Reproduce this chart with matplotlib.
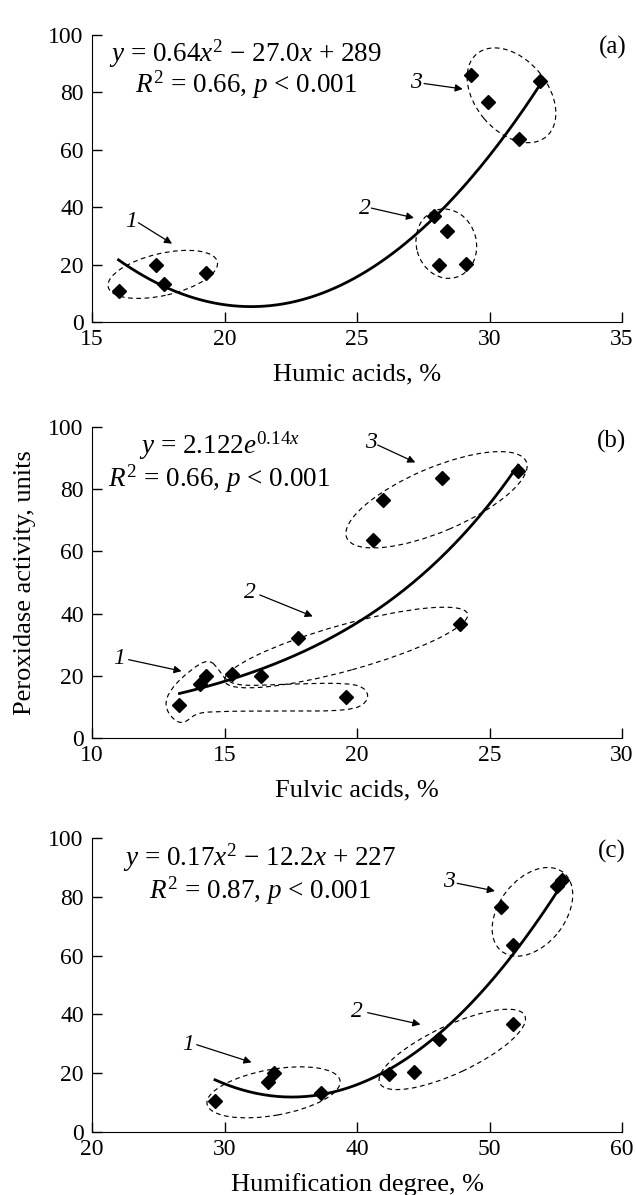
import numpy as np
import matplotlib
matplotlib.use('Agg')
import matplotlib.pyplot as plt
from matplotlib.patches import Ellipse, PathPatch
from matplotlib.path import Path
from matplotlib.transforms import ScaledTranslation

plt.rcParams['font.family'] = ['Liberation Serif', 'DejaVu Serif']
plt.rcParams['mathtext.fontset'] = 'custom'
plt.rcParams['mathtext.rm'] = 'Liberation Serif'
plt.rcParams['mathtext.it'] = 'Liberation Serif:italic'
plt.rcParams['font.size'] = 17

# Peroxidase activity (units), same samples in each panel
humic = [16.0, 17.4, 17.7, 19.3, 27.9, 28.4, 28.1, 29.1, 29.3, 29.95, 31.1, 31.9]
humic_y = [10.7, 20.0, 13.3, 17.2, 36.9, 31.7, 20.0, 20.3, 86.0, 76.5, 63.8, 84.0]

fulvic = [13.3, 14.07, 14.3, 15.3, 16.37, 17.79, 19.6, 23.9, 20.6, 20.98, 23.2, 26.08]
fulvic_y = [10.6, 17.5, 20.1, 20.7, 20.1, 32.0, 13.3, 36.7, 63.8, 76.6, 83.6, 85.9]

humif = [29.28, 33.27, 33.76, 37.27, 42.4, 44.33, 46.18, 51.77, 50.88, 51.77, 55.08, 55.45]
humif_y = [10.4, 17.1, 20.0, 13.2, 19.7, 20.3, 31.6, 36.6, 76.4, 63.7, 83.7, 85.9]

eq_a = ['$y$ = 0.64$x^2$ \u2212 27.0$x$ + 289', '$R^2$ = 0.66, $p$ < 0.001']
eq_b = ['$y$ = 2.122$e^{0.14x}$', '$R^2$ = 0.66, $p$ < 0.001']
eq_c = ['$y$ = 0.17$x^2$ \u2212 12.2$x$ + 227', '$R^2$ = 0.87, $p$ < 0.001']

# group rings: centre (data), width / height (px), angle (deg)
rings_a = [(17.67, 16.6, 112, 42, 13), (28.37, 27.3, 70, 60, -75), (30.83, 79.0, 108, 72, -50)]
rings_b = [(19.59, 29.1, 252, 46, 15.5), (23.0, 76.6, 195, 64, 23)]
rings_c = [(33.7, 13.5, 135, 46, 10), (47.19, 28.1, 160, 48, 25), (53.24, 74.9, 100, 66, 52)]

# odd-shaped outline of group 1 in panel (b)
lasso_b = [(14.41, 25.5), (13.72, 22.0), (12.95, 15.7), (12.72, 10.3), (13.10, 5.5),
           (13.49, 4.7), (13.87, 7.7), (14.49, 8.6), (17.25, 8.7), (19.71, 8.7),
           (20.4, 11.4), (20.4, 15.7), (19.71, 17.8), (17.25, 17.3), (15.56, 16.7),
           (15.02, 18.8), (14.79, 22.0)]

# group labels: text position, arrow start, arrow tip
labels_a = [('1', (16.49, 35.2), (16.75, 34.6), (18.02, 27.3)),
            ('2', (25.28, 39.7), (25.54, 39.7), (27.15, 36.3)),
            ('3', (27.22, 83.5), (27.53, 83.1), (28.99, 81.2))]
labels_b = [('1', (11.03, 25.5), (11.38, 25.2), (13.38, 21.5)),
            ('2', (15.94, 46.8), (16.33, 46.0), (18.33, 39.1)),
            ('3', (20.51, 95.0), (20.78, 94.2), (22.2, 88.6))]
labels_c = [('1', (27.28, 29.9), (27.9, 29.7), (32.04, 23.7)),
            ('2', (40.03, 41.1), (40.8, 40.6), (44.79, 36.6)),
            ('3', (46.94, 85.1), (47.56, 84.6), (50.41, 82.0))]


def ring(ax, cx, cy, w, h, ang):
    tr = ax.figure.dpi_scale_trans + ScaledTranslation(cx, cy, ax.transData)
    e = Ellipse((0, 0), w / 100, h / 100, angle=ang, transform=tr, fill=False,
                ec='k', lw=0.85, ls=(0, (4, 3)))
    ax.add_patch(e)


def lasso(ax, pts):
    pts = np.array(pts)
    n = len(pts)
    mids = (pts + np.roll(pts, -1, axis=0)) / 2
    verts = [mids[-1]]
    codes = [Path.MOVETO]
    for i in range(n):
        verts += [pts[i], mids[i]]
        codes += [Path.CURVE3, Path.CURVE3]
    ax.add_patch(PathPatch(Path(verts, codes), fill=False, ec='k', lw=0.85,
                           ls=(0, (4, 3))))


def setup(ax, xlim, xlabel, hpx):
    ax.set_xlim(*xlim)
    ax.set_ylim(0, 100)
    ax.set_xticks(np.arange(xlim[0], xlim[1] + 1, 5 if xlim[1] - xlim[0] <= 20 else 10))
    ax.set_yticks(range(0, 101, 20))
    ax.spines['top'].set_visible(False)
    ax.spines['right'].set_visible(False)
    ax.tick_params(direction='in', length=7, width=1, labelsize=17)
    ax.tick_params(axis='x', pad=5)
    ax.tick_params(axis='y', pad=6)
    ax.set_xlabel(xlabel, fontsize=19)
    ax.xaxis.label.set_va('center')
    ax.xaxis.set_label_coords(0.5, -52 / hpx)


def panel(ax, x, y, kind, eq, eqx, eqy, tag, rings, labels):
    x = np.array(x)
    y = np.array(y)
    xs = np.linspace(x.min(), x.max(), 200)
    if kind == 'exp':
        b, lna = np.polyfit(x, np.log(y), 1)
        ys = np.exp(lna) * np.exp(b * xs)
    else:
        ys = np.polyval(np.polyfit(x, y, 2), xs)
    ax.plot(xs, ys, color='k', lw=2.0, zorder=3)
    ax.plot(x, y, 'D', color='k', ms=6.8, zorder=4)
    for r in rings:
        ring(ax, *r)
    for t, tp, a0, a1 in labels:
        ax.text(tp[0], tp[1], t, fontstyle='italic', fontsize=17, ha='center', va='center')
        ax.annotate('', xy=a1, xytext=a0,
                    arrowprops=dict(arrowstyle='-|>', color='k', lw=0.9,
                                    mutation_scale=11, shrinkA=0, shrinkB=0))
    ax.text(eqx, eqy[0], eq[0], ha='center', va='center', fontsize=19.5)
    ax.text(eqx, eqy[1], eq[1], ha='center', va='center', fontsize=19.5)
    ax.text(1.008, 0.955, tag, transform=ax.transAxes, ha='right', va='center', fontsize=18)


fig = plt.figure(figsize=(6.36, 11.95), dpi=100)
ax1 = fig.add_axes([0.1447, 0.7305, 0.8333, 0.2402])
ax2 = fig.add_axes([0.1447, 0.3824, 0.8333, 0.2603])
ax3 = fig.add_axes([0.1447, 0.0527, 0.8333, 0.2460])

setup(ax1, (15, 35), 'Humic acids, %', 287)
setup(ax2, (10, 30), 'Fulvic acids, %', 311)
setup(ax3, (20, 60), 'Humification degree, %', 294)

panel(ax1, humic, humic_y, 'poly', eq_a, 20.8, (93.3, 82.8), '(a)', rings_a, labels_a)
panel(ax2, fulvic, fulvic_y, 'exp', eq_b, 14.8, (94.0, 83.3), '(b)', rings_b, labels_b)
lasso(ax2, lasso_b)
panel(ax3, humif, humif_y, 'poly', eq_c, 32.66, (93.3, 82.2), '(c)', rings_c, labels_c)

ax2.set_ylabel('Peroxidase activity, units', fontsize=19)
ax2.yaxis.label.set_va('center')
ax2.yaxis.set_label_coords(-67 / 530, 0.5)

fig.savefig('out.png', dpi=100)
